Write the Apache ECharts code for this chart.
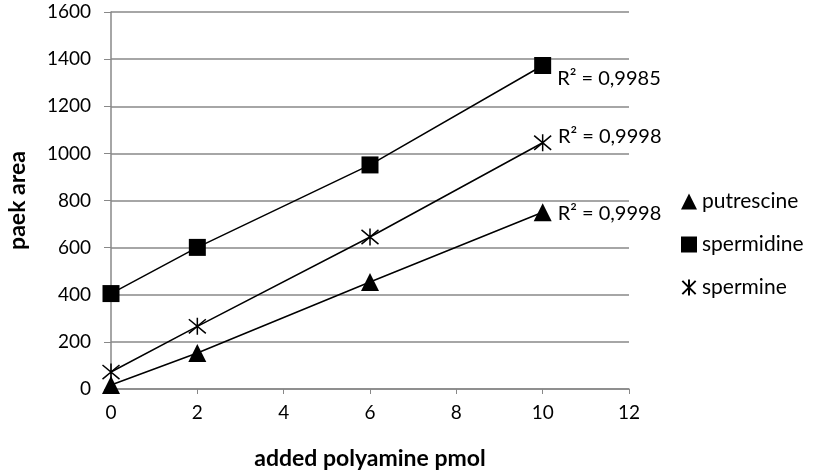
<!DOCTYPE html>
<head>
    <meta charset="utf-8">
    <title>ECharts</title>
    <script type="text/javascript" src="https://cdn.jsdelivr.net/npm/echarts@6/dist/echarts.min.js"></script>
    <style media="screen">
      html,body{ height:100%; margin:0; padding:0; background:#fff; }
    </style>
</head>
<body>
    <div id="main" style="width:817px;height:473px"></div>
    <script>
    // data
    var xValues = [0, 2, 6, 10];
    var putrescine = [17, 153, 454, 750];
    var spermidine = [405, 601, 951, 1373];
    var spermine = [72, 266, 645, 1045];
    var seriesNames = ['putrescine', 'spermidine', 'spermine'];
    var r2Labels = ['R\u00b2 = 0,9998', 'R\u00b2 = 0,9985', 'R\u00b2 = 0,9998'];

    var starPath = 'path://M0 0 L10 10 M10 0 L0 10 M5 -1 L5 11';
    var font = 'Lato, "Open Sans", sans-serif';

    function pairs(ys) {
        return ys.map(function (y, i) { return [xValues[i], y]; });
    }

    function makeSeries(idx, ys, symbol, size, style, offset) {
        return {
            name: seriesNames[idx], type: 'line', data: pairs(ys),
            symbol: symbol, symbolSize: size,
            lineStyle: { color: '#000', width: 1.5 },
            itemStyle: style,
            z: 3,
            label: {
                show: true, position: 'right', distance: 6, offset: offset,
                color: '#000', fontSize: 20, fontFamily: font,
                formatter: function (p) { return p.dataIndex === xValues.length - 1 ? r2Labels[idx] : ''; }
            }
        };
    }

    var option = {
        animation: false,
        grid: { left: 111, right: 188, top: 12, bottom: 84, containLabel: false, outerBoundsMode: 'none' },
        legend: {
            orient: 'vertical', left: 676, top: 186, itemGap: 22,
            itemWidth: 16, itemHeight: 16,
            textStyle: { color: '#000', fontSize: 21, fontFamily: font },
            data: [
                { name: 'putrescine', icon: 'triangle' },
                { name: 'spermidine', icon: 'rect' },
                { name: 'spermine', icon: starPath }
            ]
        },
        xAxis: {
            type: 'value', min: 0, max: 12, interval: 2,
            name: 'added polyamine pmol', nameLocation: 'middle', nameGap: 58,
            nameTextStyle: { color: '#000', fontSize: 23, fontWeight: 'bold', fontFamily: font },
            axisLine: { show: true, lineStyle: { color: '#888', width: 1.5 } },
            axisTick: { show: true, length: 5, lineStyle: { color: '#888' } },
            axisLabel: { color: '#000', fontSize: 19, margin: 14, fontFamily: font },
            splitLine: { show: false }
        },
        yAxis: {
            type: 'value', min: 0, max: 1600, interval: 200,
            name: 'paek area', nameLocation: 'middle', nameGap: 82,
            nameTextStyle: { color: '#000', fontSize: 23, fontWeight: 'bold', fontFamily: font },
            axisLine: { show: true, lineStyle: { color: '#888', width: 1.5 } },
            axisTick: { show: true, length: 7, lineStyle: { color: '#888' } },
            axisLabel: {
                color: '#000', fontSize: 19, margin: 20, fontFamily: font,
                formatter: function (v) { return String(v); }
            },
            splitLine: { show: true, lineStyle: { color: '#888', width: 1.5 } }
        },
        series: [
            makeSeries(0, putrescine, 'triangle', 18, { color: '#000' }, [0, 1]),
            makeSeries(1, spermidine, 'rect', 17, { color: '#000' }, [0, 13]),
            makeSeries(2, spermine, starPath, 17, { color: 'transparent', borderColor: '#000', borderWidth: 1.5 }, [0, -6])
        ]
    };

    var myChart = echarts.init(document.getElementById('main'));
    myChart.setOption(option);
    window.onresize = function () {
        myChart.resize();
    };
    </script>
</body>
